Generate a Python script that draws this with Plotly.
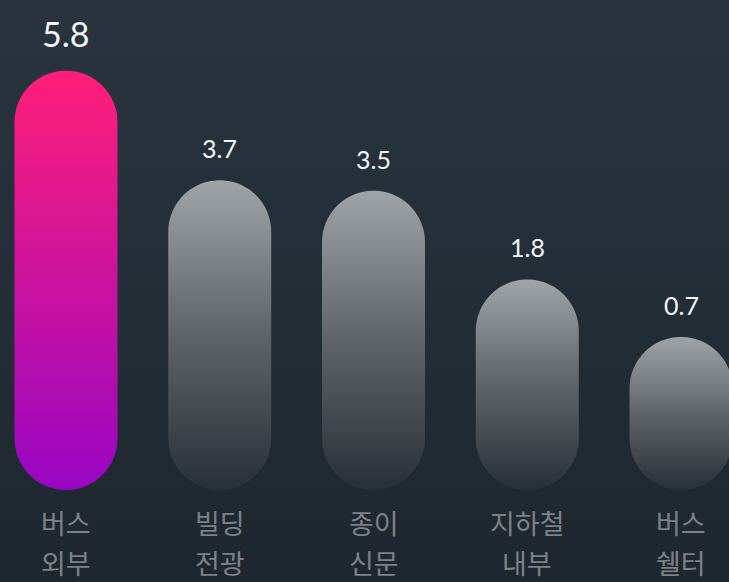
import numpy as np
import plotly.graph_objects as go

# ---- data ----
categories_line1 = ["버스", "빌딩", "종이", "지하철", "버스"]
categories_line2 = ["외부", "전광", "신문", "내부", "쉘터"]
values = [5.8, 3.7, 3.5, 1.8, 0.7]
value_labels = ["5.8", "3.7", "3.5", "1.8", "0.7"]

# ---- layout / style constants ----
W, H = 729, 582
X_RANGE = [-0.429, 4.312]
Y_RANGE = [-3.996, 7.153]
BAR_BASE = -2.234          # pill bottoms sit below zero (decorative offset)
BAR_RADIUS_PX = 51.5
BG_TOP, BG_BOTTOM = "#29343e", "#1e2730"
HILITE = [[0, "#9806c4"], [1, "#ff1f78"]]
GRAY = [[0, "#283037"], [0.5, "#5e646a"], [1, "#9fa4a8"]]

ux = (X_RANGE[1] - X_RANGE[0]) / W
uy = (Y_RANGE[1] - Y_RANGE[0]) / H
rx = BAR_RADIUS_PX * ux
ry = BAR_RADIUS_PX * uy

fig = go.Figure()

# background gradient
fig.add_trace(go.Scatter(
    x=[X_RANGE[0], X_RANGE[1], X_RANGE[1], X_RANGE[0], X_RANGE[0]],
    y=[Y_RANGE[0], Y_RANGE[0], Y_RANGE[1], Y_RANGE[1], Y_RANGE[0]],
    mode="none", fill="toself",
    fillgradient=dict(type="vertical", colorscale=[[0, BG_BOTTOM], [1, BG_TOP]]),
    hoverinfo="skip", showlegend=False,
))

t_top = np.linspace(0, np.pi, 40)
t_bot = np.linspace(np.pi, 2 * np.pi, 40)
for i, v in enumerate(values):
    yt = v - ry
    yb = BAR_BASE + ry
    xs = np.concatenate([i + rx * np.cos(t_top), i + rx * np.cos(t_bot)])
    ys = np.concatenate([yt + ry * np.sin(t_top), yb + ry * np.sin(t_bot)])
    xs = np.append(xs, xs[0]); ys = np.append(ys, ys[0])
    fig.add_trace(go.Scatter(
        x=xs, y=ys, mode="none", fill="toself",
        fillgradient=dict(type="vertical", colorscale=HILITE if i == 0 else GRAY),
        hoverinfo="skip", showlegend=False,
    ))
    fig.add_annotation(
        x=i, y=v, xref="x", yref="y", text=value_labels[i], showarrow=False,
        yanchor="middle", yshift=37 if i == 0 else 32,
        font=dict(family="Lato", size=34 if i == 0 else 25, color="#f4f5f6"),
    )
    for txt, py in ((categories_line1[i], 522), (categories_line2[i], 562)):
        fig.add_annotation(
            x=i, y=1 - py / H, xref="x", yref="paper", text=txt, showarrow=False,
            yanchor="middle",
            font=dict(family="Noto Sans CJK KR", size=27, color="#7d8287"),
        )

fig.update_layout(
    width=W, height=H, margin=dict(l=0, r=0, t=0, b=0),
    paper_bgcolor=BG_BOTTOM, plot_bgcolor=BG_BOTTOM,
    xaxis=dict(range=X_RANGE, visible=False, fixedrange=True),
    yaxis=dict(range=Y_RANGE, visible=False, fixedrange=True),
    showlegend=False,
)
fig.write_html(
    "out.html",
    config={"displayModeBar": False},
    post_script="document.body.style.margin='0';document.body.style.overflow='hidden';",
)
